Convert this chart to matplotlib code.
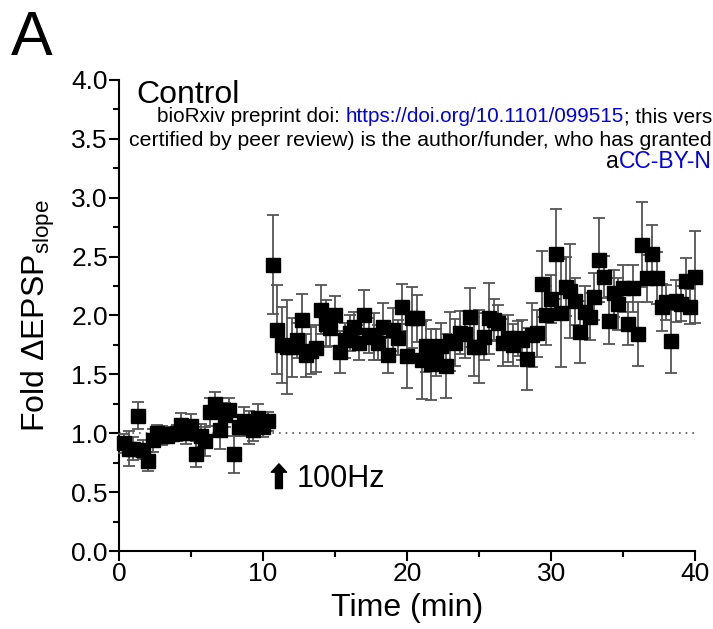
import numpy as np
import matplotlib
matplotlib.use('Agg')
from matplotlib import pyplot as plt
from matplotlib.ticker import MultipleLocator, FormatStrFormatter

plt.rcParams['font.family'] = ['Liberation Sans', 'DejaVu Sans']
plt.rcParams['mathtext.fontset'] = 'custom'
plt.rcParams['mathtext.rm'] = 'Liberation Sans'

# sample index (3 samples per minute); baseline then post-tetanus
baseline_idx = list(range(1, 32))
baseline_val = [0.915, 0.87, 0.87, 1.15, 0.86, 0.76, 0.94, 1.00, 0.98, 0.98,
                0.99, 1.00, 1.07, 1.00, 1.06, 0.82, 0.98, 0.93, 1.18, 1.25,
                1.03, 1.155, 1.20, 0.82, 1.055, 1.10, 1.05, 1.03, 1.13, 1.05,
                1.10]
baseline_err = [0.08, 0.15, 0.10, 0.115, 0.08, 0.08, 0.10, 0.07, 0.08, 0.06,
                0.06, 0.07, 0.10, 0.09, 0.10, 0.11, 0.10, 0.12, 0.12, 0.10,
                0.16, 0.10, 0.10, 0.155, 0.08, 0.12, 0.14, 0.10, 0.12, 0.08,
                0.08]

post_idx = list(range(32, 121))
post_val = [2.43, 1.88, 1.75, 1.735, 1.73, 1.79, 1.96, 1.66, 1.70, 1.72,
            2.05, 1.93, 1.89, 2.00, 1.69, 1.79, 1.85, 1.905, 1.77, 2.00,
            1.83, 1.82, 1.77, 1.905, 1.66, 1.88, 1.81, 2.07, 1.655, 1.98,
            1.975, 1.62, 1.74, 1.585, 1.685, 1.74, 1.57, 1.78, 1.77, 1.855,
            1.84, 1.985, 1.735, 1.735, 1.82, 1.975, 1.96, 1.94, 1.77, 1.805,
            1.75, 1.805, 1.79, 1.63, 1.835, 1.85, 2.265, 2.00, 2.14, 2.52,
            2.02, 2.245, 2.21, 2.12, 1.86, 2.03, 1.99, 2.16, 2.47, 2.325,
            1.955, 2.19, 2.10, 2.23, 1.93, 2.23, 1.84, 2.60, 2.315, 2.52,
            2.315, 2.07, 2.11, 1.78, 2.125, 2.10, 2.29, 2.075, 2.325]
post_err = [0.42, 0.38, 0.32, 0.40, 0.25, 0.15, 0.22, 0.18, 0.20, 0.20,
            0.21, 0.20, 0.15, 0.165, 0.18, 0.15, 0.15, 0.12, 0.15, 0.22,
            0.15, 0.20, 0.15, 0.20, 0.15, 0.18, 0.15, 0.20, 0.27, 0.26,
            0.20, 0.33, 0.22, 0.30, 0.20, 0.20, 0.27, 0.25, 0.20, 0.18,
            0.20, 0.25, 0.25, 0.31, 0.20, 0.30, 0.18, 0.15, 0.20, 0.20,
            0.18, 0.15, 0.17, 0.26, 0.27, 0.20, 0.28, 0.25, 0.20, 0.38,
            0.46, 0.25, 0.40, 0.20, 0.26, 0.22, 0.20, 0.20, 0.36, 0.18,
            0.20, 0.20, 0.22, 0.20, 0.18, 0.20, 0.27, 0.36, 0.20, 0.25,
            0.22, 0.20, 0.15, 0.27, 0.18, 0.15, 0.20, 0.15, 0.39]

SAMPLES_PER_MIN = 3.0

fig = plt.figure(figsize=(7.13, 6.29), dpi=100)
ax = fig.add_axes([0.167, 0.124, 0.808, 0.749])

ax.axhline(1.0, color='#555555', lw=1.2, ls=(0, (1, 3)), zorder=1)

for idx, val, err in [(baseline_idx, baseline_val, baseline_err),
                      (post_idx, post_val, post_err)]:
    t = np.array(idx) / SAMPLES_PER_MIN
    ax.errorbar(t, val, yerr=err, fmt='s', ms=9.8, mfc='black', mec='black',
                ecolor='#555555', elinewidth=1.3, capsize=4, capthick=1.3,
                zorder=3, clip_on=False)

ax.set_xlim(0, 40)
ax.set_ylim(0, 4.0)
ax.xaxis.set_major_locator(MultipleLocator(10))
ax.xaxis.set_minor_locator(MultipleLocator(5))
ax.yaxis.set_major_locator(MultipleLocator(0.5))
ax.yaxis.set_minor_locator(MultipleLocator(0.25))
ax.yaxis.set_major_formatter(FormatStrFormatter('%.1f'))

for side in ['top', 'right']:
    ax.spines[side].set_visible(False)
for side in ['left', 'bottom']:
    ax.spines[side].set_linewidth(1.5)
ax.tick_params(which='major', direction='out', length=7, width=1.5,
               labelsize=19, pad=1)
ax.tick_params(which='minor', direction='out', length=4, width=1.5)

ax.set_xlabel('Time (min)', fontsize=23, labelpad=5)
ax.set_ylabel(r'Fold $\Delta$EPSP$_{\mathrm{slope}}$', fontsize=23, labelpad=10)

ax.text(1.2, 3.87, 'Control', fontsize=23, va='center', ha='left')

# stimulus arrow
ax.annotate('', xy=(11.1, 0.74), xytext=(11.1, 0.53),
            arrowprops=dict(arrowstyle='simple,head_length=0.6,head_width=1.1,tail_width=0.5',
                            color='black', shrinkA=0, shrinkB=0))
ax.text(12.3, 0.61, '100Hz', fontsize=22, va='center', ha='left')

fig.text(0.015, 0.985, 'A', fontsize=45, va='top', ha='left')

# bioRxiv watermark lines, laid out right to left so they end at the edge
blue = '#0000ee'


def put_pieces(x_right, y, pieces, size):
    renderer = fig.canvas.get_renderer()
    x = x_right
    for s, c in reversed(pieces):
        txt = fig.text(x, y, s, fontsize=size, color=c, va='center',
                       ha='right', transform=None)
        x -= txt.get_window_extent(renderer).width


H = 629
put_pieces(712, H - 117, [('bioRxiv preprint doi: ', 'black'),
                          ('https://doi.org/10.1101/099515', blue),
                          ('; this vers', 'black')], 14.9)
put_pieces(712, H - 140, [('certified by peer review) is the author/funder, who has granted', 'black')], 15.3)
put_pieces(712, H - 162, [('a', 'black'), ('CC-BY-N', blue)], 16.5)

fig.savefig('out.png', dpi=100)
